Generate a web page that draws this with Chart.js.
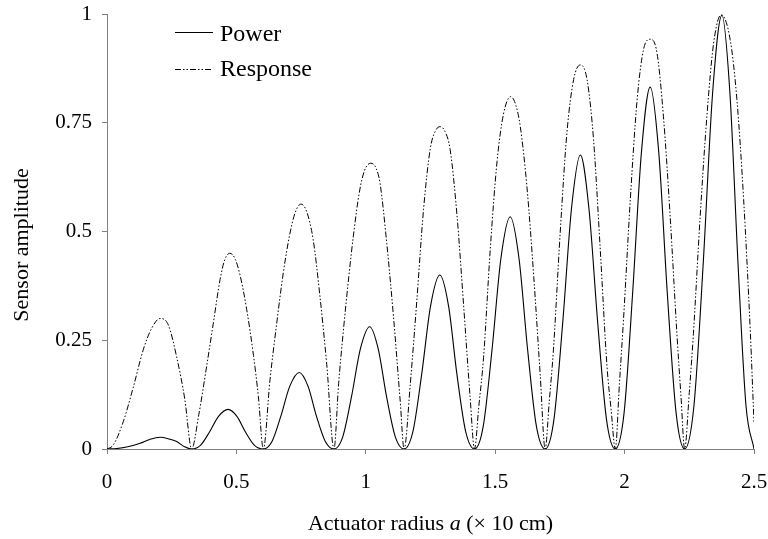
<!DOCTYPE html>
<html lang="en">
<head>
  <meta charset="UTF-8"/>
  <title>Sensor amplitude vs actuator radius</title>
  <script src="https://cdn.jsdelivr.net/npm/chart.js"></script>
  <style>
    body { margin: 0; background: #fff; }
    #wrap { position: relative; width: 768px; height: 539px; }
  </style>
</head>
<body>
  <div id="wrap"><canvas id="chart"></canvas></div>

  <script>
    // values
    const xTicks = [0, 0.5, 1, 1.5, 2, 2.5];
    const yTicks = [0, 0.25, 0.5, 0.75, 1];
    const yTickLabels = ["0", "0.25", "0.5", "0.75", "1"];

    const powerX = [
      0, 0.037, 0.08, 0.128, 0.165, 0.205, 0.24, 0.269, 0.30, 0.327,
      0.362, 0.396, 0.431, 0.468, 0.502, 0.535, 0.569, 0.604,
      0.638, 0.672, 0.706, 0.743, 0.777, 0.809, 0.843, 0.877,
      0.911, 0.945, 0.979, 1.015, 1.048, 1.080, 1.114, 1.148,
      1.182, 1.216, 1.250, 1.286, 1.320, 1.352, 1.386, 1.42,
      1.454, 1.488, 1.522, 1.558, 1.592, 1.625, 1.659, 1.693,
      1.727, 1.761, 1.795, 1.829, 1.862, 1.896, 1.930, 1.964,
      1.998, 2.031, 2.065, 2.099, 2.132, 2.165, 2.199, 2.232,
      2.268, 2.304, 2.340, 2.376, 2.407, 2.438, 2.469, 2.5
    ];
    const powerY = [
      0, 0.001, 0.005, 0.013, 0.022, 0.027, 0.023, 0.017, 0.005, 0,
      0.009, 0.039, 0.075, 0.091, 0.075, 0.039, 0.009, 0,
      0.018, 0.076, 0.144, 0.176, 0.144, 0.076, 0.018, 0,
      0.028, 0.121, 0.230, 0.281, 0.230, 0.121, 0.028, 0,
      0.04, 0.172, 0.328, 0.40, 0.328, 0.172, 0.04, 0,
      0.053, 0.23, 0.438, 0.534, 0.438, 0.23, 0.053, 0,
      0.068, 0.291, 0.554, 0.676, 0.554, 0.291, 0.068, 0,
      0.083, 0.358, 0.682, 0.832, 0.682, 0.358, 0.083, 0,
      0.10, 0.429, 0.818, 0.997, 0.818, 0.429, 0.10, 0
    ];

    const responseX = [
      0, 0.024, 0.063, 0.102, 0.14, 0.173, 0.205, 0.237, 0.269, 0.301, 0.327,
      0.355, 0.385, 0.411, 0.437, 0.455, 0.475, 0.495, 0.514, 0.54, 0.566, 0.585, 0.604,
      0.63, 0.656, 0.68, 0.705, 0.728, 0.75, 0.772, 0.797, 0.823, 0.849, 0.877,
      0.895, 0.913, 0.935, 0.952, 0.975, 0.995, 1.019, 1.04, 1.055, 1.081, 1.107, 1.133, 1.148,
      1.172, 1.197, 1.223, 1.249, 1.268, 1.287, 1.306, 1.326, 1.352, 1.378, 1.403, 1.42,
      1.437, 1.455, 1.481, 1.507, 1.532, 1.56, 1.58, 1.597, 1.623, 1.649, 1.674, 1.693,
      1.709, 1.725, 1.751, 1.777, 1.803, 1.829, 1.855, 1.88, 1.906, 1.932, 1.948, 1.964,
      1.98, 1.996, 2.022, 2.048, 2.073, 2.099, 2.125, 2.15, 2.176, 2.202, 2.218, 2.232,
      2.25, 2.266, 2.292, 2.318, 2.344, 2.373, 2.408, 2.434, 2.46, 2.486, 2.5
    ];
    const responseY = [
      0, 0.009, 0.063, 0.143, 0.228, 0.278, 0.30, 0.285, 0.212, 0.113, 0,
      0.08, 0.19, 0.29, 0.39, 0.435, 0.45, 0.437, 0.40, 0.32, 0.215, 0.12, 0,
      0.16, 0.29, 0.40, 0.49, 0.545, 0.563, 0.545, 0.48, 0.35, 0.195, 0,
      0.15, 0.27, 0.40, 0.49, 0.59, 0.64, 0.657, 0.645, 0.611, 0.473, 0.304, 0.11, 0,
      0.15, 0.34, 0.55, 0.69, 0.73, 0.741, 0.73, 0.688, 0.54, 0.33, 0.12, 0,
      0.1, 0.21, 0.46, 0.66, 0.77, 0.81, 0.79, 0.741, 0.6, 0.396, 0.17, 0,
      0.11, 0.228, 0.496, 0.726, 0.849, 0.883, 0.849, 0.711, 0.458, 0.19, 0.09, 0,
      0.15, 0.3, 0.573, 0.8, 0.918, 0.942, 0.911, 0.765, 0.535, 0.266, 0.12, 0,
      0.13, 0.266, 0.535, 0.765, 0.933, 0.998, 0.941, 0.803, 0.573, 0.266, 0.06
    ];

    const SERIF = "'Liberation Serif', 'Times New Roman', serif";
    const AXIS = "#808080";

    const toPoints = (xs, ys) => xs.map((x, i) => ({ x: x, y: ys[i] }));

    // legend + axis titles drawn inside the canvas
    const decorations = {
      id: "decorations",
      afterDraw(chart) {
        const ctx = chart.ctx;
        const area = chart.chartArea;
        ctx.save();
        ctx.fillStyle = "#000";
        ctx.textBaseline = "middle";

        // legend
        const rows = [
          { ds: chart.data.datasets[0], line: 32, text: 34.5 },
          { ds: chart.data.datasets[1], line: 69, text: 70 }
        ];
        rows.forEach(r => {
          ctx.beginPath();
          ctx.strokeStyle = "#000";
          ctx.lineWidth = 1;
          ctx.setLineDash(r.ds.borderDash || []);
          ctx.moveTo(175, r.line + 0.5);
          ctx.lineTo(213, r.line + 0.5);
          ctx.stroke();
          ctx.setLineDash([]);
          ctx.font = "24px " + SERIF;
          ctx.textAlign = "left";
          ctx.fillText(r.ds.label, 220, r.text);
        });

        // x title with italic a
        const parts = [
          { t: "Actuator radius ", f: "22px " + SERIF },
          { t: "a", f: "italic 22px " + SERIF },
          { t: " (\u00d7 10 cm)", f: "22px " + SERIF }
        ];
        let total = 0;
        parts.forEach(p => { ctx.font = p.f; p.w = ctx.measureText(p.t).width; total += p.w; });
        let x = (area.left + area.right) / 2 - total / 2;
        parts.forEach(p => {
          ctx.font = p.f;
          ctx.fillText(p.t, x, 524);
          x += p.w;
        });

        // y title
        ctx.translate(22, 245);
        ctx.rotate(-Math.PI / 2);
        ctx.font = "22px " + SERIF;
        ctx.textAlign = "center";
        ctx.fillText("Sensor amplitude", 0, 0);
        ctx.restore();
      }
    };

    new Chart(document.getElementById("chart"), {
      type: "line",
      data: {
        datasets: [
          {
            label: "Power",
            data: toPoints(powerX, powerY),
            borderColor: "#000",
            borderWidth: 1.1,
            pointRadius: 0,
            cubicInterpolationMode: "monotone",
            fill: false
          },
          {
            label: "Response",
            data: toPoints(responseX, responseY),
            borderColor: "#000",
            borderWidth: 1,
            borderDash: [6, 2, 1.5, 2, 1.5, 2],
            pointRadius: 0,
            cubicInterpolationMode: "monotone",
            fill: false
          }
        ]
      },
      options: {
        responsive: true,
        maintainAspectRatio: false,
        animation: false,
        layout: { padding: { left: 0, top: 14, right: 14, bottom: 0 } },
        plugins: {
          legend: { display: false },
          tooltip: { enabled: false }
        },
        scales: {
          x: {
            type: "linear",
            min: 0,
            max: 2.5,
            afterBuildTicks: s => { s.ticks = xTicks.map(v => ({ value: v })); },
            afterFit: s => { s.height = 90; s.paddingLeft = 0; s.paddingRight = 0; },
            ticks: {
              color: "#000",
              font: { family: SERIF, size: 21 },
              padding: 16,
              maxRotation: 0,
              callback: v => String(v)
            },
            grid: { drawOnChartArea: false, drawTicks: true, tickLength: 5, color: AXIS },
            border: { color: AXIS, width: 1 }
          },
          y: {
            type: "linear",
            min: 0,
            max: 1,
            afterBuildTicks: s => { s.ticks = yTicks.map(v => ({ value: v })); },
            afterFit: s => { s.width = 107; s.paddingTop = 0; s.paddingBottom = 0; },
            ticks: {
              color: "#000",
              font: { family: SERIF, size: 21 },
              padding: 10,
              callback: v => yTickLabels[yTicks.indexOf(v)]
            },
            grid: { drawOnChartArea: false, drawTicks: true, tickLength: 5, color: AXIS },
            border: { color: AXIS, width: 1 }
          }
        }
      },
      plugins: [decorations]
    });
  </script>
</body>
</html>
